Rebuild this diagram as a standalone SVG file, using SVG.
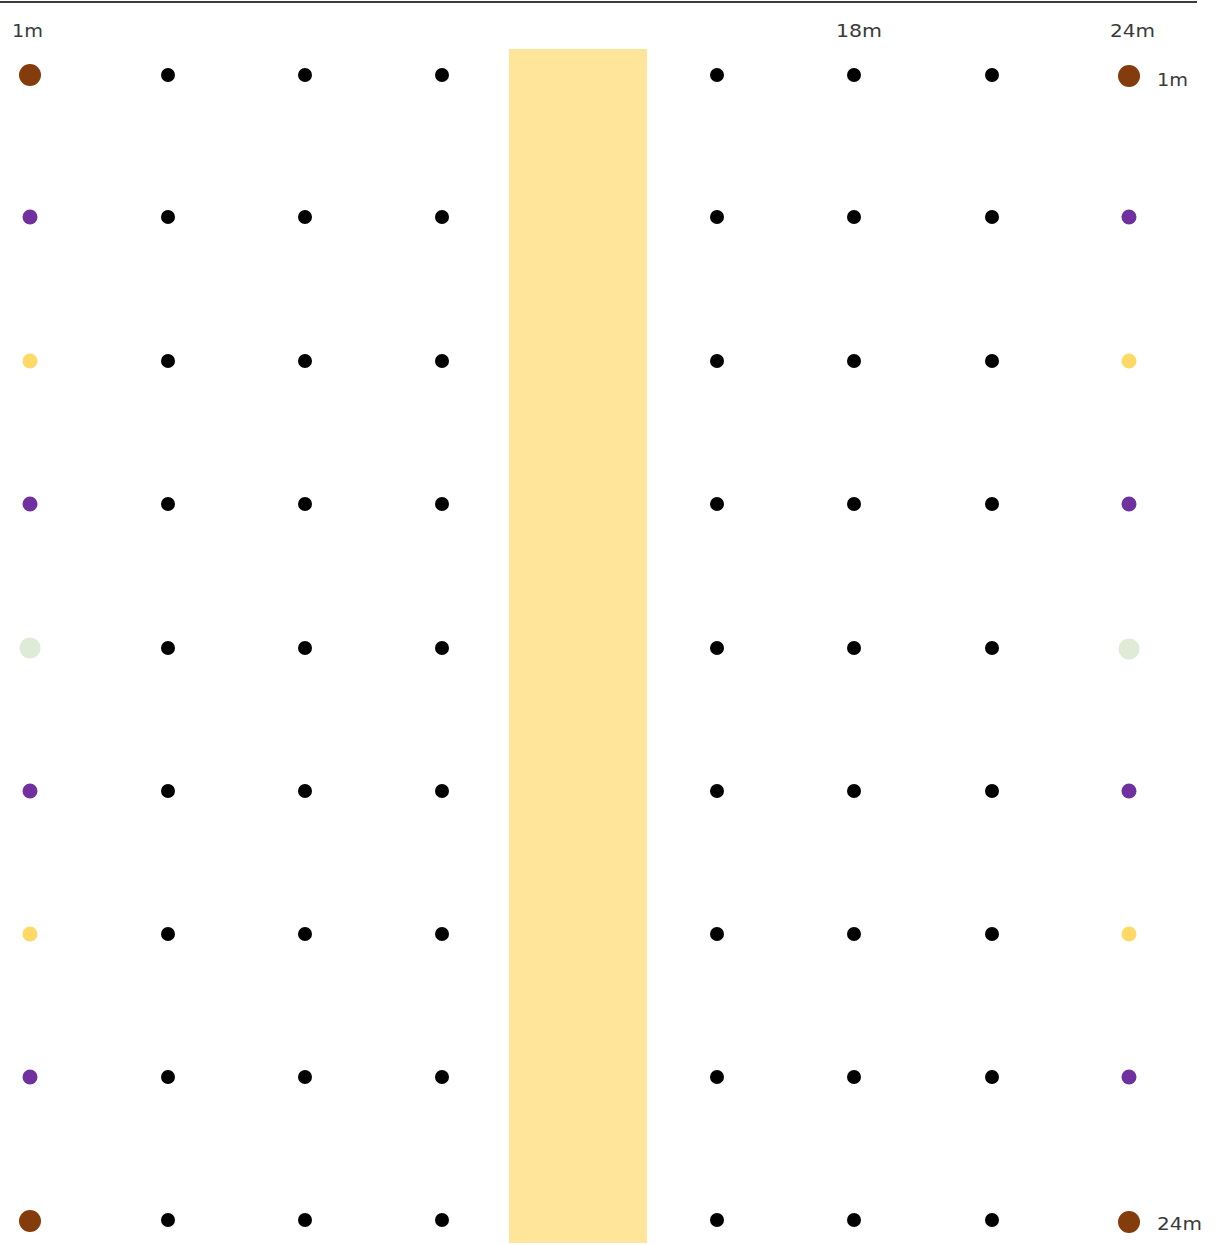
<svg xmlns="http://www.w3.org/2000/svg" width="1216" height="1245" viewBox="0 0 1216 1245">
<style>
.lbl{font-family:"DejaVu Sans","Liberation Sans",sans-serif;font-size:17px;fill:#3a3a3a}
.k{fill:#000}
.br{fill:#843C0C}
.pu{fill:#7030A0}
.ye{fill:#FFD966}
.gr{fill:#DDEBD7}
</style>
<rect width="1216" height="1245" fill="#fff"/>
<line x1="0" y1="2" x2="1197" y2="2" stroke="#3c3c3c" stroke-width="2"/>
<g id="path">
<rect x="509" y="49" width="138" height="1194" fill="#FFE599"/>
</g>
<g id="labels">
<text class="lbl" x="12" y="37" textLength="31" lengthAdjust="spacingAndGlyphs">1m</text>
<text class="lbl" x="836" y="37" textLength="46" lengthAdjust="spacingAndGlyphs">18m</text>
<text class="lbl" x="1110" y="37" textLength="45" lengthAdjust="spacingAndGlyphs">24m</text>
<text class="lbl" x="1157" y="86" textLength="31" lengthAdjust="spacingAndGlyphs">1m</text>
<text class="lbl" x="1157" y="1230" textLength="45" lengthAdjust="spacingAndGlyphs">24m</text>
</g>
<g id="edge-left">
<circle class="br" cx="30" cy="75" r="11"/>
<circle class="pu" cx="30" cy="217" r="7.5"/>
<circle class="ye" cx="30" cy="361" r="7.5"/>
<circle class="pu" cx="30" cy="504" r="7.5"/>
<circle class="gr" cx="30" cy="648" r="10.5"/>
<circle class="pu" cx="30" cy="791" r="7.5"/>
<circle class="ye" cx="30" cy="934" r="7.5"/>
<circle class="pu" cx="30" cy="1077" r="7.5"/>
<circle class="br" cx="30" cy="1221" r="11"/>
</g>
<g id="edge-right">
<circle class="br" cx="1129" cy="76" r="11"/>
<circle class="pu" cx="1129" cy="217" r="7.5"/>
<circle class="ye" cx="1129" cy="361" r="7.5"/>
<circle class="pu" cx="1129" cy="504" r="7.5"/>
<circle class="gr" cx="1129" cy="649" r="10.5"/>
<circle class="pu" cx="1129" cy="791" r="7.5"/>
<circle class="ye" cx="1129" cy="934" r="7.5"/>
<circle class="pu" cx="1129" cy="1077" r="7.5"/>
<circle class="br" cx="1129" cy="1222" r="11"/>
</g>
<defs>
<g id="col"><circle cx="0" cy="75" r="7"/><circle cx="0" cy="217" r="7"/><circle cx="0" cy="361" r="7"/><circle cx="0" cy="504" r="7"/><circle cx="0" cy="648" r="7"/><circle cx="0" cy="791" r="7"/><circle cx="0" cy="934" r="7"/><circle cx="0" cy="1077" r="7"/><circle cx="0" cy="1220" r="7"/></g>
</defs>
<g id="interior" class="k">
<use href="#col" x="168"/>
<use href="#col" x="305"/>
<use href="#col" x="442"/>
<use href="#col" x="717"/>
<use href="#col" x="854"/>
<use href="#col" x="992"/>
</g>
</svg>
